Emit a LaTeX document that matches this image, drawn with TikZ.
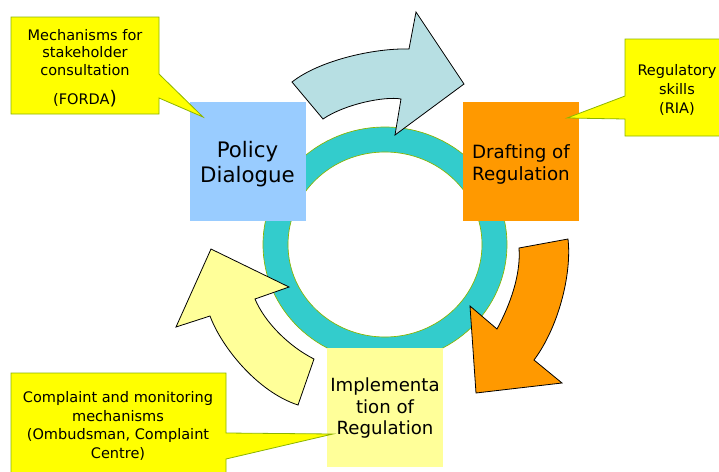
\documentclass[tikz,border=0pt]{standalone}
\usepackage{fontspec}
\setmainfont{DejaVu Sans}
\definecolor{policyblue}{HTML}{99CCFF}
\definecolor{draftorange}{HTML}{FF9900}
\definecolor{implyellow}{HTML}{FFFF99}
\definecolor{noteyellow}{HTML}{FFFF00}
\definecolor{noteedge}{HTML}{8CB400}
\definecolor{ringteal}{HTML}{33CCCC}
\definecolor{arrowblue}{HTML}{B7DFE3}

\begin{document}
\begin{tikzpicture}[x=0.75pt, y=-0.75pt,
    stagebox/.style={rectangle, inner sep=0pt, minimum width=87pt, minimum height=89.25pt},
    stagetext/.style={align=center, inner sep=0pt, yshift=-2.25pt},
    note/.style={fill=noteyellow, draw=noteedge, line width=0.6pt, line join=miter},
    notetext/.style={align=center, inner sep=0pt, font=\fontsize{10.9}{14}\selectfont},
    bigarrow/.style={draw=black, line width=0.6pt, line join=miter}]
\clip (0,0) rectangle (719,472);

% ring
\draw[fill=ringteal, draw=noteedge, line width=0.5pt, even odd rule]
    (385,244.5) ellipse [x radius=122, y radius=117.5]
    (385,244.5) ellipse [x radius=97, y radius=92.5];

% curved arrows
\draw[bigarrow, fill=arrowblue] (292,82) .. controls (320,60) and (375,48) .. (409,49) -- (416,12) -- (464,84) -- (395,135) -- (401,99) .. controls (385,96) and (345,104) .. (323,119) -- cycle;
\draw[bigarrow, fill=draftorange] (519,248) .. controls (521,275) and (510,305) .. (497,329) -- (470,306) -- (476,393) -- (562,383) -- (534,360) .. controls (558,328) and (572,275) .. (568,239) -- cycle;
\draw[bigarrow, fill=implyellow] (314,359) .. controls (290,347) and (265,323) .. (255,299) -- (289,287) -- (211,249) -- (176,327) -- (210,316) .. controls (222,348) and (258,392) .. (298,405) -- cycle;

% stages
\node[stagebox, fill=policyblue, label={[stagetext, font=\fontsize{16}{18.75}\selectfont]center:Policy\\Dialogue}] (policy) at (247.5,161.5) {};
\node[stagebox, fill=draftorange, label={[stagetext, font=\fontsize{13.7}{16.5}\selectfont]center:Drafting of\\Regulation}] (drafting) at (521,161.5) {};
\node[stagebox, fill=implyellow, label={[stagetext, yshift=1.5pt, font=\fontsize{13.6}{16}\selectfont]center:Implementa\\tion of\\Regulation}] (implem) at (385,407) {};

% callouts
\draw[note] (11,17) -- (159,17) -- (159,74) -- (203,117) -- (159,98) -- (159,114) -- (11,114) -- cycle;
\node[notetext, font=\fontsize{10.9}{13.1}\selectfont] (forda) at (85,68) {Mechanisms for\\stakeholder\\consultation\\[8.6pt](FORDA{\fontsize{14}{14}\selectfont)}};

\draw[note] (625,39) -- (730,39) -- (730,136) -- (625,136) -- (625,119) -- (567,118) -- (625,96) -- cycle;
\node[notetext] (ria) at (677,90) {Regulatory\\skills\\(RIA)};

\draw[note] (11,373) -- (226,373) -- (226,433) -- (333,434) -- (226,459) -- (226,480) -- (11,480) -- cycle;
\node[notetext, font=\fontsize{10.9}{13.9}\selectfont] (complaint) at (118,426) {Complaint and monitoring\\mechanisms\\(Ombudsman, Complaint\\Centre)};

\end{tikzpicture}
\end{document}
